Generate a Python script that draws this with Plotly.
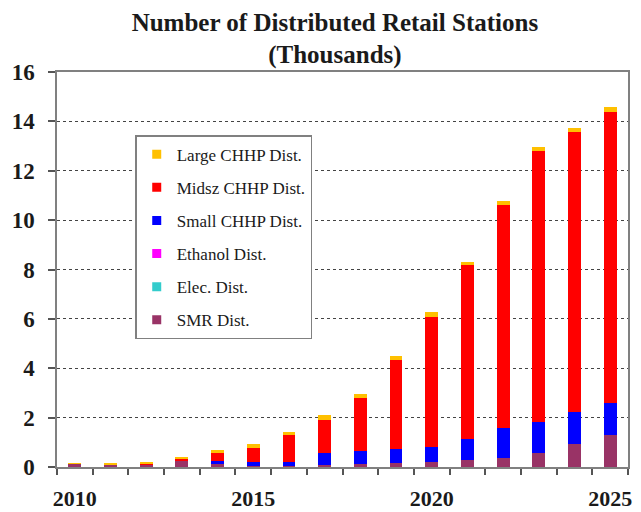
import plotly.graph_objects as go

years = list(range(2010, 2026))
smr_dist = [0.15, 0.10, 0.10, 0.25, 0.11, 0.04, 0.04, 0.08, 0.14, 0.18, 0.20, 0.28, 0.38, 0.58, 0.92, 1.28]
elec_dist = [0.0] * 16
ethanol_dist = [0.0] * 16
small_chhp = [0.0, 0.0, 0.0, 0.0, 0.14, 0.16, 0.18, 0.48, 0.49, 0.54, 0.61, 0.87, 1.22, 1.25, 1.29, 1.30]
midsz_chhp = [0.0, 0.0, 0.03, 0.10, 0.35, 0.56, 1.09, 1.36, 2.18, 3.61, 5.28, 7.02, 9.01, 10.99, 11.36, 11.82]
large_chhp = [0.01, 0.06, 0.09, 0.07, 0.08, 0.16, 0.10, 0.19, 0.14, 0.18, 0.18, 0.13, 0.16, 0.16, 0.16, 0.18]

x_labels = [2010, 2015, 2020, 2025]
y_ticks = [0, 2, 4, 6, 8, 10, 12, 14, 16]

series = [
    ("SMR Dist.", smr_dist, "#993366"),
    ("Elec. Dist.", elec_dist, "#33CCCC"),
    ("Ethanol Dist.", ethanol_dist, "#FF00FF"),
    ("Small CHHP Dist.", small_chhp, "#0000FF"),
    ("Midsz CHHP Dist.", midsz_chhp, "#FF0000"),
    ("Large CHHP Dist.", large_chhp, "#FFC000"),
]

serif = "Liberation Serif, Times New Roman, serif"

fig = go.Figure()
n = len(series)
for i, (name, vals, col) in enumerate(series):
    fig.add_trace(go.Bar(
        x=years, y=vals, name=name, marker=dict(color=col, line=dict(width=0)),
        width=0.36, legendgroup=f"g{i}", showlegend=False,
    ))
    # legend entry with a small square key
    fig.add_trace(go.Scatter(
        x=[None], y=[None], mode="markers", name=name,
        marker=dict(symbol="square", size=9, color=col),
        legendgroup=f"g{i}", legendrank=n - i, showlegend=True,
    ))

# invisible trace on the label axis
fig.add_trace(go.Scatter(x=[years[0], years[-1]], y=[0, 0], xaxis="x2", mode="markers",
                         marker=dict(opacity=0), showlegend=False, hoverinfo="skip"))

fig.update_layout(
    width=641, height=512,
    margin=dict(l=49, r=21, t=64, b=53, autoexpand=False),
    paper_bgcolor="white", plot_bgcolor="white",
    barmode="stack",
    title=dict(
        text="<b>Number of Distributed Retail Stations<br>(Thousands)</b>",
        x=0.51, xanchor="center", y=0.956, yanchor="top", yref="container",
        font=dict(family=serif, size=25, color="#1a1a1a"),
    ),
    xaxis=dict(
        range=[2009.5, 2025.5],
        tickmode="array",
        tickvals=[y + 0.5 for y in range(2009, 2026)],
        ticktext=[""] * 17,
        ticks="outside", ticklen=6, tickcolor="#555", tickwidth=1.5,
        showgrid=False, zeroline=False, automargin=False,
        showline=True, linecolor="#808080", linewidth=1.5, mirror=True,
    ),
    xaxis2=dict(
        range=[2009.5, 2025.5], overlaying="x", side="bottom",
        tickmode="array", tickvals=x_labels, ticktext=[str(v) for v in x_labels],
        ticks="", showgrid=False, zeroline=False, showline=False, automargin=False,
        ticklabelstandoff=16,
        tickfont=dict(family=serif, size=22, color="#1a1a1a", weight="bold"),
    ),
    yaxis=dict(
        range=[0, 16],
        tickmode="array", tickvals=y_ticks,
        ticks="outside", ticklen=7, tickcolor="#555", tickwidth=1.5,
        showgrid=True, gridcolor="#444", griddash="dot", gridwidth=1,
        zeroline=False, automargin=False,
        showline=True, linecolor="#808080", linewidth=1.5, mirror=True,
        ticklabelstandoff=9,
        tickfont=dict(family=serif, size=23, color="#1a1a1a", weight="bold"),
    ),
    legend=dict(
        x=0.137, y=0.84, xanchor="left", yanchor="top",
        traceorder="grouped", tracegroupgap=8, itemwidth=30,
        bordercolor="#808080", borderwidth=1.5, bgcolor="white",
        font=dict(family=serif, size=17, color="#1a1a1a"),
    ),
    bargap=0.64,
    showlegend=True,
)

fig.write_html("out.html")
